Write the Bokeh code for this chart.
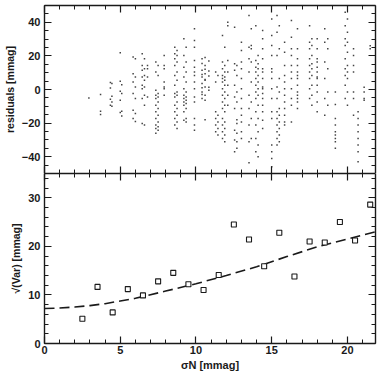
from bokeh.plotting import figure
from bokeh.layouts import column
from bokeh.models import LinearAxis, FixedTicker, Range1d, CustomJSTickFormatter
from bokeh.embed import file_html
from bokeh.resources import INLINE

FONT = "Liberation Sans"

# ---- top panel: residuals per star column (sigma_N, residual values) ----
col_sigma = [2.93, 3.7, 4.35, 4.45, 5.0, 5.1, 5.85, 6.0, 6.45, 6.6, 6.8,
             7.35, 7.5, 7.9, 8.6, 8.75, 9.2, 9.35, 9.9, 10.4, 10.6, 10.85,
             11.3, 11.45, 11.75, 11.9, 12.1, 12.55, 12.7, 13.0, 13.5, 13.65,
             13.95, 14.1, 14.4, 15.0, 15.35, 15.5, 15.85, 16.3, 16.7, 17.5,
             17.65, 18.0, 18.5, 18.7, 19.2, 19.85, 20.0, 20.4, 20.7, 21.1, 21.5]
col_resid = [
    [-5],
    [-3, -12.9, -14.9],
    [4.1, 0.9, -5.8, -9.4],
    [3.5, -4, -7.4, -10],
    [21.9, 4.9, -1, -6.4, -13.7],
    [2.9, -2.4, -12.9, -15.7],
    [19.3, 9.4, 4.4, -2.4, -12.3, -17.2],
    [18.3, 7.4, 1.5, -5.4, -14.3, -19],
    [21.3, 14.3, 11.4, 7.4, 2.5, 0.5, -5.4, -20.2],
    [18.3, 12.4, 8.4, 5.5, 1.5, -3.4, -9.4, -21.2],
    [14.3, 12.4, 7.4, -4.4],
    [16.3, 10.4, -0.5, -3.4, -5.4, -9.4, -13.3, -17.2, -21.2, -23.2, -26.1],
    [14.3, 8.4, -2.4, -4.4, -7.4, -11.3, -15.3, -19.3, -22.2, -24.2],
    [20.3, 14.3, 12.4, 4.4, 1.5, 0.5, -3.4],
    [25.2, 21.3, 18.3, 14.3, 8.4, 2.5, -2.4, -4.4, -9.4, -13.3, -17.2, -21.2],
    [23.2, 20.3, 16.3, 10.4, 5.5, -1.5, -3.4, -7.4, -11.3, -15.3, -19.3, -23.2],
    [30.2, 20.3, 13.3, 7.4, 0.5, -3.4, -5.4, -7.4, -9.4, -13.3, -18.3],
    [25.2, 16.3, 10.4, 4.4, -1.5, -4.4, -6.4, -8.4, -11.3, -17.2, -19.3],
    [36.1, 29.2, 25.2, 17.3, 13.3, 10.4, 8.4, 4.4, 0.5, -4.4, -7.4, -17.2, -21.2, -24.2],
    [18.3, 11.4, 7.4, 3.5, -1.5, -5.4, 15.5, 9, 1, -3],
    [14.3, 9.4, 5.5, 1.5, -3.4, 19, 12, 6, -6.4, -18],
    [17, 8, 1.3, -0.5, 11],
    [10.4, 4.4, -13.3, -17.2, -21.2, -25.2],
    [8.4, -15.3, -19.3, -23.2, -27.1],
    [32.1, 16.3, 12.4, 8.4, 6.5, 4.4, 0.5, -3.4, -7.4, -11.3, -17.2, -21.2, -25.2, -29.1],
    [25.2, 14.3, 10.4, 7.4, 5.5, 2.5, -1.5, -5.4, -9.4, -13.3, -19.3, -23.2, -27.1, -31.1],
    [40, 38, 17.3, 10.4, 2.5, -3.4, -9.4],
    [37, 15.3, 11.4, 2.5, -4.4, -11.3, -24.2, -30.1, -37],
    [14.3, 8.4, -1.5, -7.4, -20.2, -26.1, -31.1, -18, -35],
    [28.1, 23.2, 16.3, 12.4, 6.5, 0.5, -5.4, -11.3, -15.3, -19.3, -25.2, -29.1],
    [44, 25.2, 18.3, 10.4, -3.4, -11.3, -21.2, -31.1, -43.6],
    [36.1, 26.2, 24.2, 16.3, 4.4, -7.4, -17.2, -29.1],
    [38, 17.3, 13.3, 10.4, 6.5, 2.5, -1.5, -5.4, -13.3, -21.2, -29.1, -37],
    [20.3, 15.3, 12.4, 8.4, 4.4, 0.5, -3.4, -9.4, -17.2, -25.2, -33.1, -40],
    [35.1, 30.2, 24.2, 18.3, 12.4, 10.4, 6.5, 1.5, 0.5, -2.4, -5.4, -9.4, -13.3, -18.3, -23.2],
    [42, 32.1, 26.2, 20.3, 12.4, 10.4, 6.5, 0.5, -5.4, -13.3, -17.2, -33.1, -37, -41, -46],
    [44, 34.1, 20.3, 1.5, -5.4, -13.3, -17.2, -21.2, -25.2, -29.1, -33.1],
    [38, 24.2, 6.5, -1.5, -11.3, -15.3, -19.3, -23.2, -27.1, -31.1],
    [28.1, 22.2, 14.3, 8.4, 4.4, 0.5, -3.4, -7.4, -11.3, -15.3, -19.3, -21.2],
    [41, 31.1, 24.2, 20.3, 14.3, 10.4, 6.5, 0.5, -5.4, -9.4, -19.3],
    [36.1, 24.2, 18.3, 14.3, 10.4, 8.4, 6.5, 2.5, -1.5, -3.4, -5.4, -7.4, -11.3],
    [38, 28.1, 24.2, 18.3, 14.3, 10.4, 6.5, 0.5, -5.4],
    [30.2, 26.2, 20.3, 15.3, 12.4, 8.4, 2.5, -3.4, -9.4],
    [30.2, 24.2, 18.3, 16.3, 13.3, 10.4, 7.4, 6.5, 2.5, -1.5, -7.4, -13.3],
    [36.1, 28.1, 16.3, 6.5, -5.4, -15.3],
    [30.2, 24.2, 12.4, -1.5, -9.4],
    [-17.2, -21.2, -25.2, -27.1, -29.1, -31.1, -35, -1.5, -9],
    [46, 38, 30.2, 26.2, 18.3, 12.4, 8.4, 2.5, -5.4],
    [42, 34.1, 28.1, 22.2, 14.3, 10.4, 6.5, -1.5, -9.4],
    [24.2, 20.3, 14.3, 10.4, -1.5, -5.4, -15.3],
    [-13.3, -17.2, -21.2, -25.2, -29.1, -33.1, -37, -43],
    [1.3, -1.5, -5.4, -6.4],
    [24.2, 26],
]

# ---- bottom panel: binned sqrt(variance) ----
bin_sigma = [2.5, 3.5, 4.5, 5.5, 6.5, 7.5, 8.5, 9.5, 10.5, 11.5,
             12.5, 13.5, 14.5, 15.5, 16.5, 17.5, 18.5, 19.5, 20.5, 21.5]
sqrt_var = [5.1, 11.65, 6.4, 11.2, 9.9, 12.8, 14.55, 12.2, 11.0, 14.1,
            24.5, 21.4, 15.9, 22.8, 13.8, 21.0, 20.8, 25.0, 21.2, 28.6]

# model curve
curve_x = [0, 1, 2, 3, 4, 5, 6, 8, 10, 12, 14, 16, 18, 20, 22]
curve_y = [7.2, 7.3, 7.5, 7.8, 8.2, 8.75, 9.3, 10.8, 12.3, 14.0, 15.8, 17.9, 19.9, 21.5, 23.1]

x_major = [0, 5, 10, 15, 20]
x_minor = list(range(0, 22))
top_y_major = [-40, -20, 0, 20, 40]
top_y_minor = list(range(-50, 51, 5))
bot_y_major = [0, 10, 20, 30]
bot_y_minor = list(range(0, 36, 2))

pts_x, pts_y = [], []
for s, rs in zip(col_sigma, col_resid):
    for r in rs:
        pts_x.append(s)
        pts_y.append(r)

INK = "#1a1a1a"


def make_axis(major, minor, labels):
    ax = LinearAxis(ticker=FixedTicker(ticks=major, minor_ticks=minor))
    ax.major_tick_in = 7
    ax.major_tick_out = 0
    ax.minor_tick_in = 4
    ax.minor_tick_out = 0
    ax.axis_line_width = 1.4
    ax.axis_line_color = INK
    ax.major_tick_line_color = INK
    ax.minor_tick_line_color = INK
    ax.major_tick_line_width = 1.2
    ax.minor_tick_line_width = 1
    ax.major_label_text_font = FONT
    ax.major_label_text_font_style = "bold"
    ax.major_label_text_font_size = "11px"
    ax.major_label_text_color = INK
    ax.axis_label_text_font = FONT
    ax.axis_label_text_font_style = "bold"
    ax.axis_label_text_font_size = "10.5px"
    ax.axis_label_text_color = INK
    if not labels:
        ax.formatter = CustomJSTickFormatter(code="return ''")
        ax.major_label_text_font_size = "1px"
        ax.major_label_standoff = 0
    return ax


def base_fig(height, y_range, top_b, bottom_b):
    f = figure(width=381, height=height,
               x_range=Range1d(0, 21.85), y_range=y_range,
               toolbar_location=None, output_backend="svg",
               x_axis_location=None, y_axis_location=None,
               min_border_left=40, min_border_right=6,
               min_border_top=top_b, min_border_bottom=bottom_b)
    f.outline_line_color = None
    f.grid.visible = False
    return f


# ---- top panel ----
top = base_fig(173, Range1d(-50, 50), 5, 0)
la = make_axis(top_y_major, top_y_minor, True)
la.axis_label = "residuals [mmag]"
la.major_label_standoff = 4
la.axis_label_standoff = 3
top.add_layout(la, "left")
top.add_layout(make_axis(top_y_major, top_y_minor, False), "right")
top.add_layout(make_axis(x_major, x_minor, False), "above")
top.add_layout(make_axis(x_major, x_minor, False), "below")
top.scatter(pts_x, pts_y, marker="square", size=1.5,
            fill_color="#444444", line_color=None)

# ---- bottom panel ----
bot = base_fig(200, Range1d(0, 35), 0, 30)
bl = make_axis(bot_y_major, bot_y_minor, True)
bl.axis_label = "\u221a(Var) [mmag]"
bl.major_label_standoff = 4
bl.axis_label_standoff = 3
bot.add_layout(bl, "left")
bot.add_layout(make_axis(bot_y_major, bot_y_minor, False), "right")
bot.add_layout(make_axis(x_major, x_minor, False), "above")
bb = make_axis(x_major, x_minor, True)
bb.major_label_standoff = 2
bb.axis_label = "\u03c3N [mmag]"
bb.axis_label_standoff = 2
bb.axis_label_text_font_size = "11px"
bot.add_layout(bb, "below")

bot.line(curve_x, curve_y, line_dash="10 5", line_width=1.6, line_color=INK)
bot.scatter(bin_sigma, sqrt_var, marker="square", size=5,
            fill_color="white", line_color=INK, line_width=1.1)

layout = column(top, bot, spacing=0)
open("out.html", "w").write(file_html(layout, INLINE))
